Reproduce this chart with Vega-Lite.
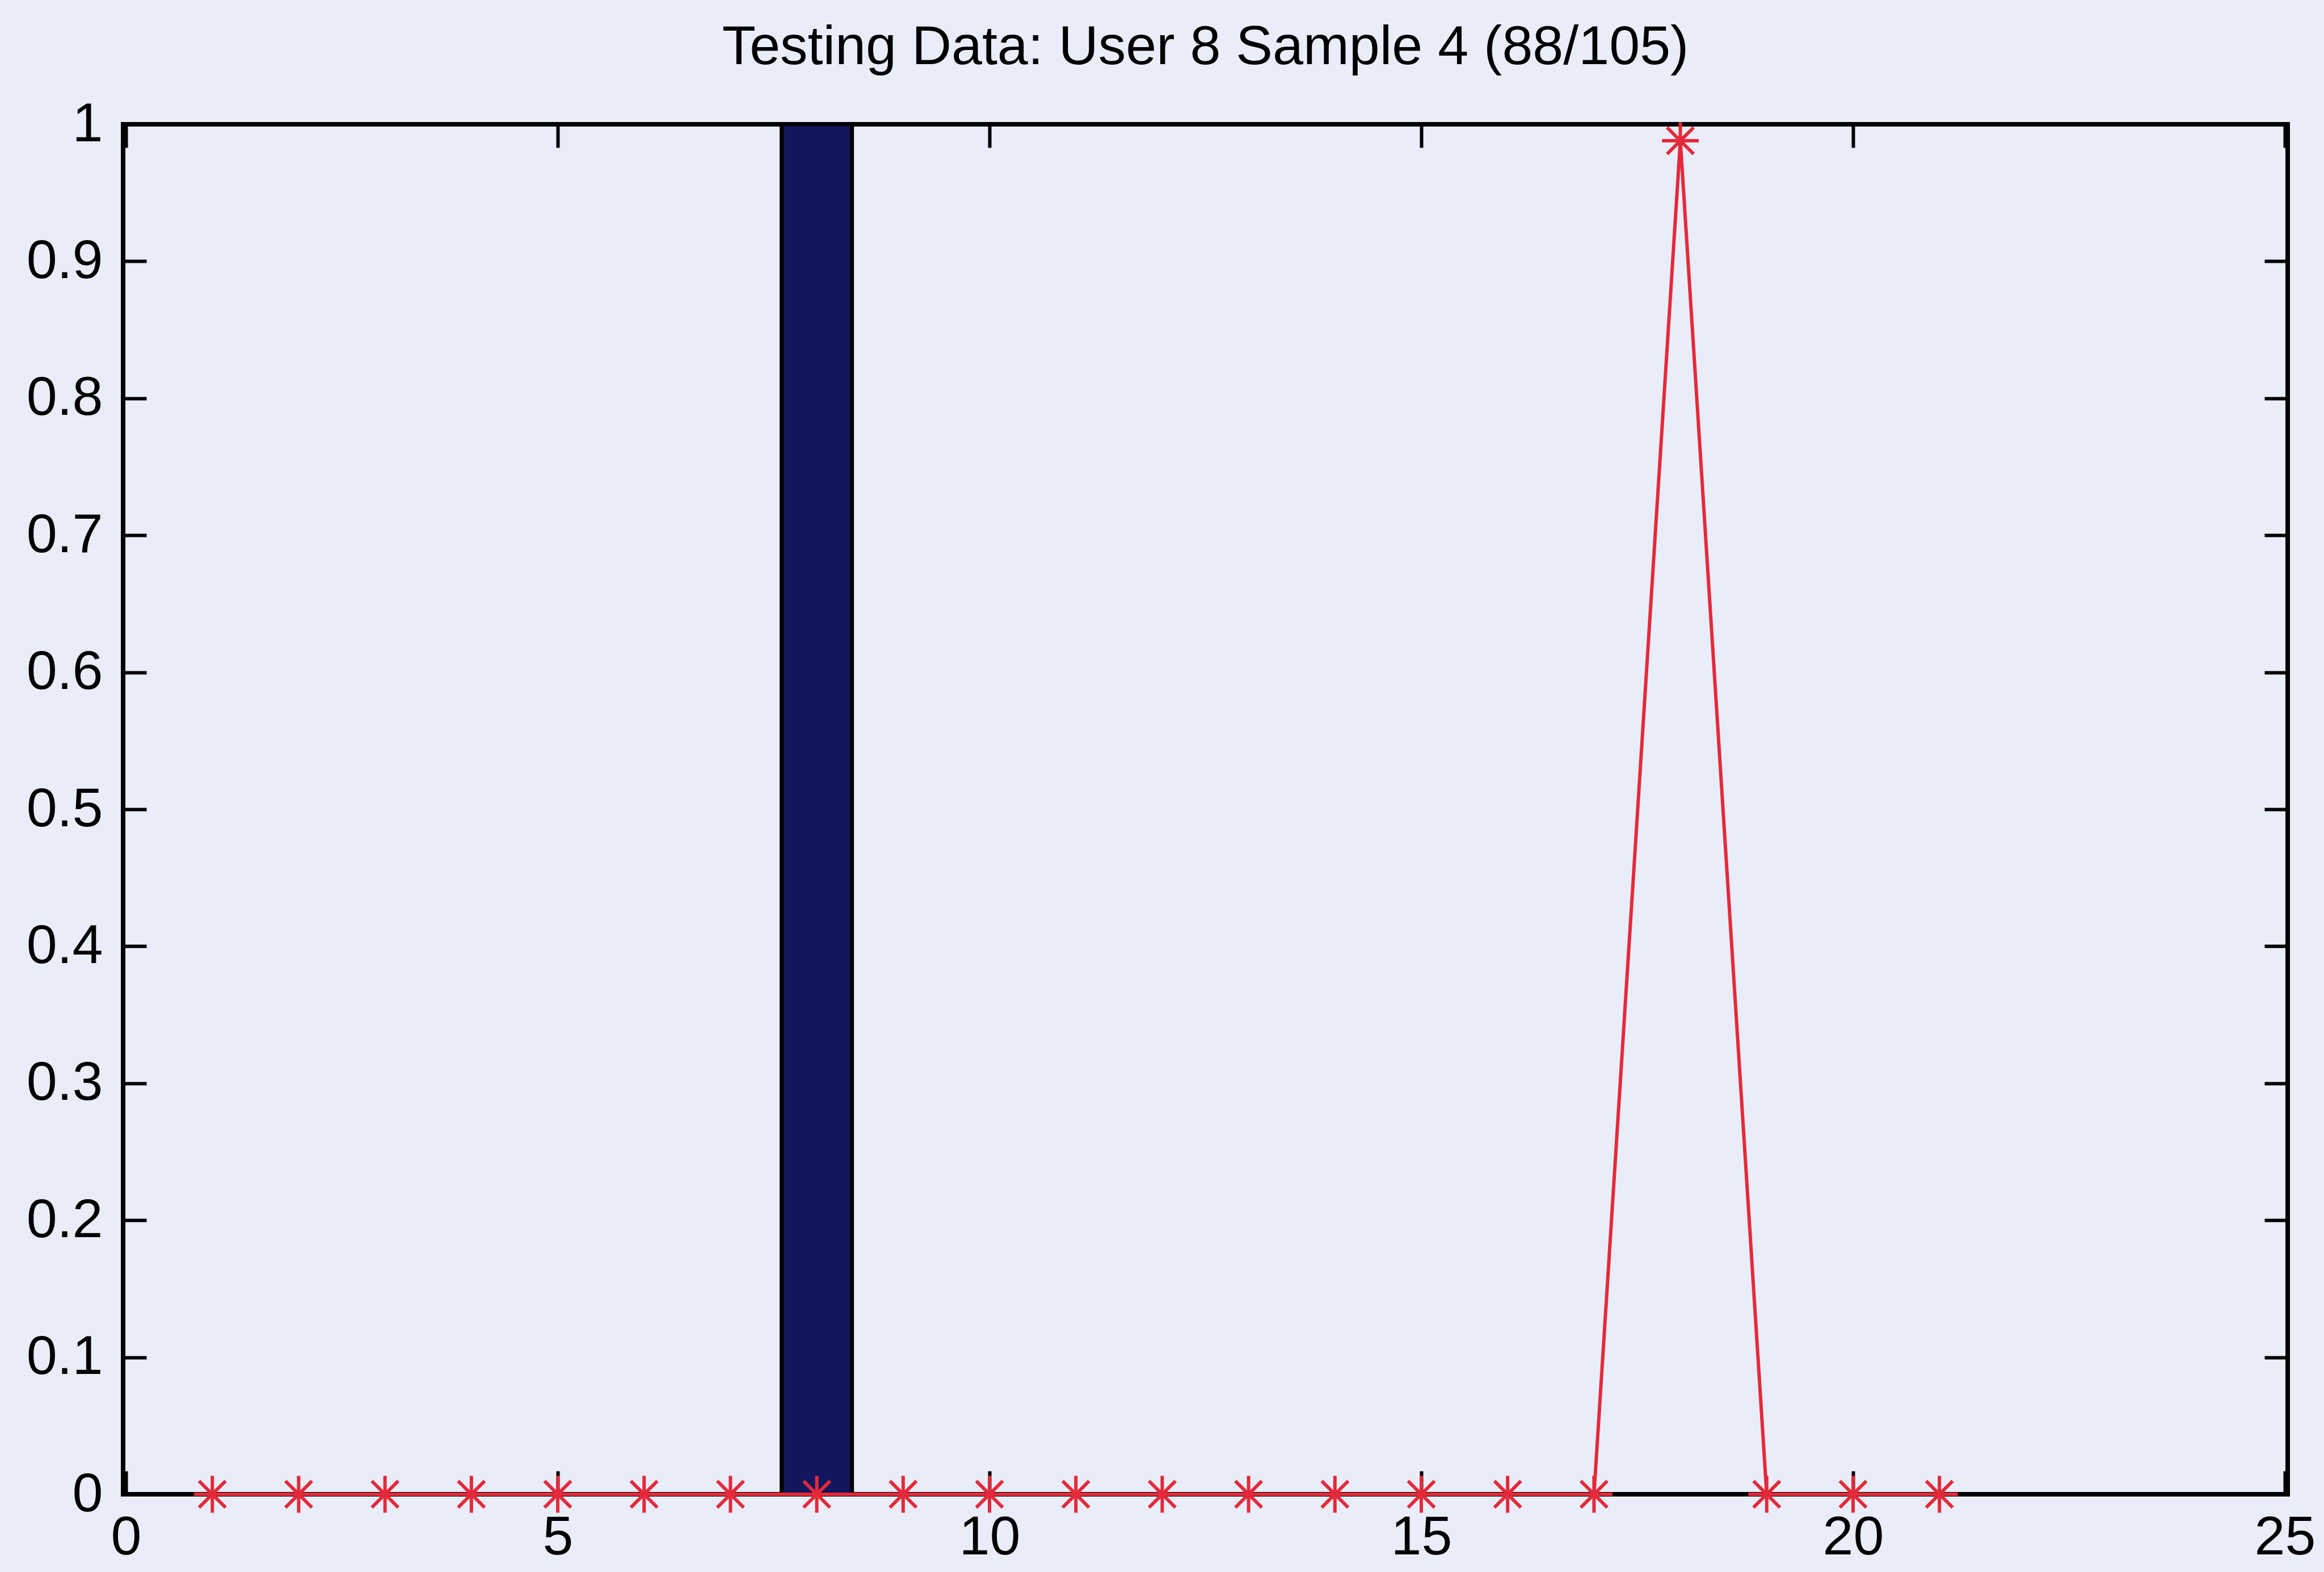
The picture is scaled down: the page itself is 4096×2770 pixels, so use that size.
{
  "$schema": "https://vega.github.io/schema/vega-lite/v6.json",
  "width": 3815,
  "height": 2414,
  "autosize": {"type": "none"},
  "padding": {"left": 217, "top": 219, "right": 64, "bottom": 137},
  "background": "#e9edf9",
  "title": {
    "text": "Testing Data: User 8 Sample 4 (88/105)",
    "font": "Liberation Sans",
    "fontSize": 97,
    "fontWeight": "normal",
    "color": "#000000",
    "anchor": "middle",
    "baseline": "alphabetic",
    "offset": -40
  },
  "data": {
    "values": [
      {"user": 1, "target": 0, "output": 0},
      {"user": 2, "target": 0, "output": 0},
      {"user": 3, "target": 0, "output": 0},
      {"user": 4, "target": 0, "output": 0},
      {"user": 5, "target": 0, "output": 0},
      {"user": 6, "target": 0, "output": 0},
      {"user": 7, "target": 0, "output": 0},
      {"user": 8, "target": 1, "output": 0},
      {"user": 9, "target": 0, "output": 0},
      {"user": 10, "target": 0, "output": 0},
      {"user": 11, "target": 0, "output": 0},
      {"user": 12, "target": 0, "output": 0},
      {"user": 13, "target": 0, "output": 0},
      {"user": 14, "target": 0, "output": 0},
      {"user": 15, "target": 0, "output": 0},
      {"user": 16, "target": 0, "output": 0},
      {"user": 17, "target": 0, "output": 0},
      {"user": 18, "target": 0, "output": 0.988},
      {"user": 19, "target": 0, "output": 0},
      {"user": 20, "target": 0, "output": 0},
      {"user": 21, "target": 0, "output": 0}
    ]
  },
  "layer": [
    {
      "transform": [{"filter": "datum.target > 0"}],
      "mark": {"type": "bar", "width": 124, "fill": "#11175f", "stroke": "#000000", "strokeWidth": 7, "clip": true},
      "encoding": {
        "x": {"field": "user", "type": "quantitative",
              "scale": {"domain": [0, 25], "nice": false, "zero": false},
              "axis": {"orient": "bottom", "values": [0, 5, 10, 15, 20, 25], "title": null, "labelPadding": 69, "labelFlush": false}},
        "y": {"field": "target", "type": "quantitative",
              "scale": {"domain": [0, 1], "nice": false},
              "axis": {"orient": "left", "values": [0, 0.1, 0.2, 0.3, 0.4, 0.5, 0.6, 0.7, 0.8, 0.9, 1], "format": ".1~f", "title": null, "labelPadding": 77, "labelFlush": false}}
      }
    },
    {
      "mark": {"type": "line", "stroke": "#e42a3a", "strokeWidth": 6},
      "encoding": {
        "x": {"field": "user", "type": "quantitative",
              "axis": {"orient": "top", "values": [0, 5, 10, 15, 20, 25], "labels": false, "title": null}},
        "y": {"field": "output", "type": "quantitative",
              "axis": {"orient": "right", "values": [0, 0.1, 0.2, 0.3, 0.4, 0.5, 0.6, 0.7, 0.8, 0.9, 1], "labels": false, "title": null}}
      }
    },
    {
      "mark": {"type": "point", "shape": "M0,-1L0,1M-1,0L1,0M-0.72,-0.72L0.72,0.72M-0.72,0.72L0.72,-0.72", "filled": false, "stroke": "#e42a3a", "strokeWidth": 6, "size": 4225, "opacity": 1},
      "encoding": {
        "x": {"field": "user", "type": "quantitative", "axis": null},
        "y": {"field": "output", "type": "quantitative", "axis": null}
      }
    }
  ],
  "resolve": {"axis": {"x": "independent", "y": "independent"}},
  "config": {
    "view": {"stroke": "#000000", "strokeWidth": 8, "fill": "#e9edf9"},
    "axis": {
      "domain": false,
      "grid": false,
      "ticks": true,
      "tickColor": "#000000",
      "tickWidth": 6,
      "tickSize": -41,
      "labelFont": "Liberation Sans",
      "labelFontSize": 97,
      "labelColor": "#000000"
    }
  }
}
